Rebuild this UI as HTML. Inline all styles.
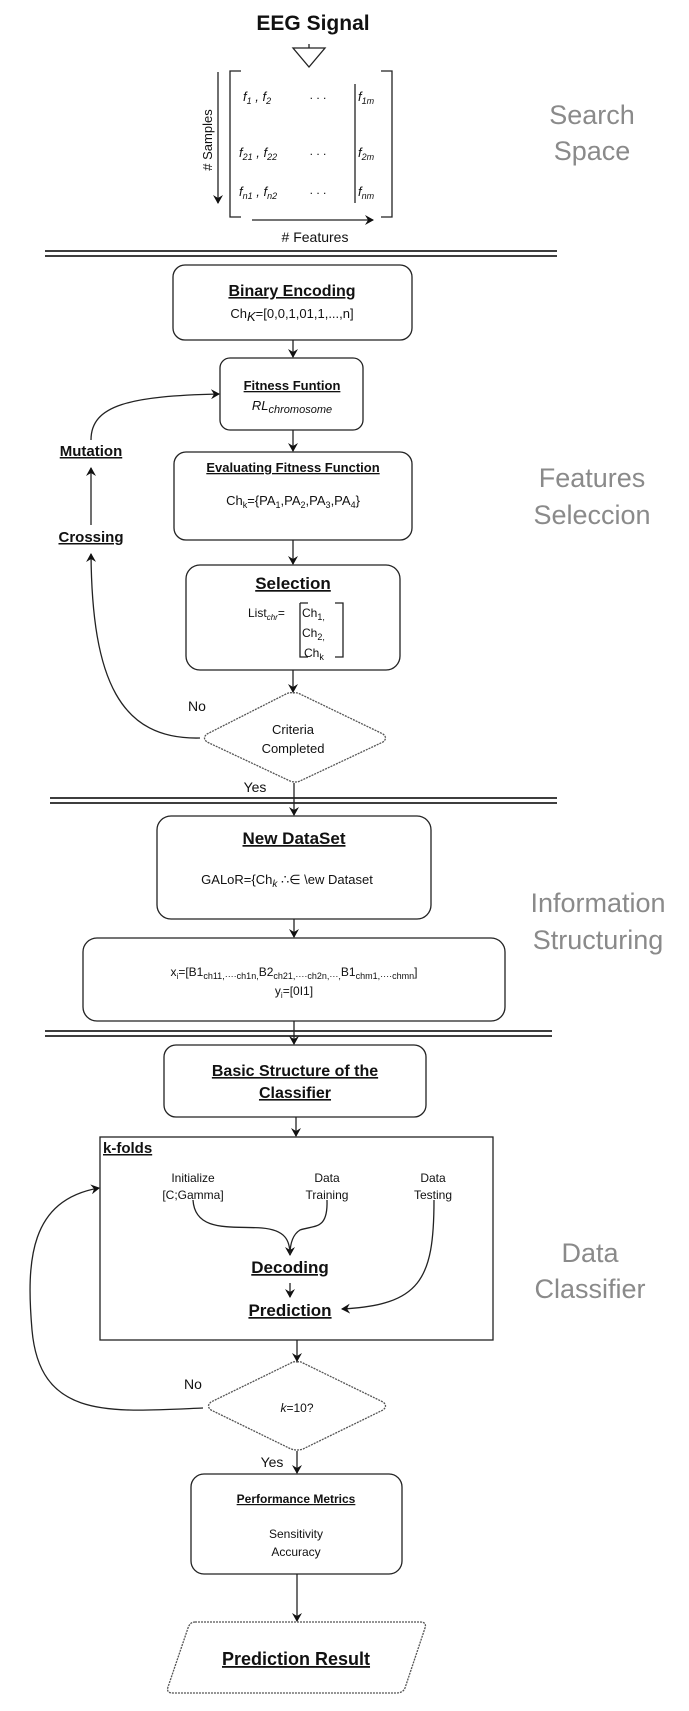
<!DOCTYPE html>
<html><head><meta charset="utf-8"><style>
html,body{margin:0;padding:0;background:#fff}
svg{display:block}
text{font-family:"Liberation Sans",Arial,sans-serif;fill:#111}
.b{font-weight:bold;text-decoration:underline}
.g{fill:#8a8a8a;font-size:27px}
</style></head><body>
<svg width="689" height="1711" viewBox="0 0 689 1711" xmlns="http://www.w3.org/2000/svg">
<defs>
<marker id="a" markerWidth="10" markerHeight="10" refX="8" refY="5" orient="auto" markerUnits="userSpaceOnUse"><path d="M0,0 L9,5 L0,10 L3,5 z" fill="#111"/></marker>
</defs>
<g stroke="#222" fill="none" stroke-width="1.3">
<path d="M293,48 L325,48 L309,67 Z"/><line x1="309" y1="44" x2="309" y2="48"/>
<path d="M241,71 L230,71 L230,217 L241,217"/>
<path d="M381,71 L392,71 L392,217 L381,217"/>
<line x1="355" y1="84" x2="355" y2="203"/>
<line x1="218" y1="72" x2="218" y2="203" marker-end="url(#a)"/>
<line x1="252" y1="220" x2="373" y2="220" marker-end="url(#a)"/>
<g stroke-width="1.8">
<line x1="45" y1="251" x2="557" y2="251"/><line x1="45" y1="256" x2="557" y2="256"/>
<line x1="50" y1="798" x2="557" y2="798"/><line x1="50" y1="803" x2="557" y2="803"/>
<line x1="45" y1="1031" x2="552" y2="1031"/><line x1="45" y1="1036" x2="552" y2="1036"/>
</g>
<rect x="173" y="265" width="239" height="75" rx="12"/>
<rect x="220" y="358" width="143" height="72" rx="10"/>
<rect x="174" y="452" width="238" height="88" rx="12"/>
<rect x="186" y="565" width="214" height="105" rx="14"/>
<path d="M300,603 L308,603 M300,603 L300,657 L308,657 M335,603 L343,603 L343,657 L335,657"/>
<path d="M293,693 Q296,692 300,694 L383,734 Q388,738 383,742 L300,781 Q296,783 290,781 L207,742 Q202,738 207,734 L286,694 Q290,692 293,693 Z" stroke-dasharray="2,1" stroke="#555"/>
<rect x="157" y="816" width="274" height="103" rx="14"/>
<rect x="83" y="938" width="422" height="83" rx="14"/>
<rect x="164" y="1045" width="262" height="72" rx="12"/>
<rect x="100" y="1137" width="393" height="203"/>
<path d="M297,1362 Q300,1361 303,1363 L383,1402 Q388,1406 383,1410 L303,1449 Q297,1451 291,1449 L211,1410 Q206,1406 211,1402 L291,1363 Q294,1361 297,1362 Z" stroke-dasharray="2,1" stroke="#555"/>
<rect x="191" y="1474" width="211" height="100" rx="13"/>
<path d="M195,1622 L420,1622 Q427,1622 425,1628 L405,1688 Q403,1693 396,1693 L173,1693 Q166,1693 168,1687 L188,1628 Q190,1622 195,1622 Z" stroke-dasharray="2,1" stroke="#555"/>
<line x1="293" y1="340" x2="293" y2="357" marker-end="url(#a)"/>
<line x1="293" y1="430" x2="293" y2="451" marker-end="url(#a)"/>
<line x1="293" y1="540" x2="293" y2="564" marker-end="url(#a)"/>
<line x1="293" y1="670" x2="293" y2="692" marker-end="url(#a)"/>
<line x1="294" y1="783" x2="294" y2="815" marker-end="url(#a)"/>
<line x1="294" y1="919" x2="294" y2="937" marker-end="url(#a)"/>
<line x1="294" y1="1021" x2="294" y2="1044" marker-end="url(#a)"/>
<line x1="296" y1="1117" x2="296" y2="1136" marker-end="url(#a)"/>
<line x1="297" y1="1340" x2="297" y2="1361" marker-end="url(#a)"/>
<line x1="297" y1="1451" x2="297" y2="1473" marker-end="url(#a)"/>
<line x1="297" y1="1574" x2="297" y2="1621" marker-end="url(#a)"/>
<line x1="91" y1="525" x2="91" y2="468" marker-end="url(#a)"/>
<path d="M91,440 C91,405 130,396 219,394" marker-end="url(#a)"/>
<path d="M200,738 C120,740 92,680 91,554" marker-end="url(#a)"/>
<path d="M203,1408 C110,1412 40,1420 32,1330 C26,1260 30,1200 99,1188" marker-end="url(#a)"/>
<path d="M193,1200 C195,1232 230,1226 262,1228 C285,1230 290,1240 290,1255" marker-end="url(#a)"/>
<path d="M327,1200 C328,1230 315,1225 300,1230 C292,1235 290,1245 290,1255"/>
<line x1="290" y1="1283" x2="290" y2="1297" marker-end="url(#a)"/>
<path d="M434,1200 C434,1280 420,1305 342,1309" marker-end="url(#a)"/>
</g>
<text x="313" y="30" font-size="21" font-weight="bold" text-anchor="middle">EEG Signal</text>
<g font-size="13" font-style="italic">
<text x="243" y="101">f<tspan font-size="9" dy="3">1</tspan><tspan dy="-3"> , f</tspan><tspan font-size="9" dy="3">2</tspan></text>
<text x="239" y="157">f<tspan font-size="9" dy="3">21</tspan><tspan dy="-3"> , f</tspan><tspan font-size="9" dy="3">22</tspan></text>
<text x="239" y="196">f<tspan font-size="9" dy="3">n1</tspan><tspan dy="-3"> , f</tspan><tspan font-size="9" dy="3">n2</tspan></text>
<text x="358" y="101">f<tspan font-size="9" dy="3">1m</tspan></text>
<text x="358" y="157">f<tspan font-size="9" dy="3">2m</tspan></text>
<text x="358" y="196">f<tspan font-size="9" dy="3">nm</tspan></text>
</g>
<text x="318" y="99" font-size="12" text-anchor="middle">. . .</text>
<text x="318" y="155" font-size="12" text-anchor="middle">. . .</text>
<text x="318" y="194" font-size="12" text-anchor="middle">. . .</text>
<text x="212" y="140" font-size="13" text-anchor="middle" transform="rotate(-90 212 140)"># Samples</text>
<text x="315" y="242" font-size="14" text-anchor="middle"># Features</text>

<text class="g" x="592" y="124" text-anchor="middle">Search</text>
<text class="g" x="592" y="160" text-anchor="middle">Space</text>
<text class="g" x="592" y="487" text-anchor="middle">Features</text>
<text class="g" x="592" y="524" text-anchor="middle">Seleccion</text>
<text class="g" x="598" y="912" text-anchor="middle">Information</text>
<text class="g" x="598" y="949" text-anchor="middle">Structuring</text>
<text class="g" x="590" y="1262" text-anchor="middle">Data</text>
<text class="g" x="590" y="1298" text-anchor="middle">Classifier</text>

<text class="b" x="292" y="296" font-size="16" text-anchor="middle">Binary Encoding</text>
<text x="292" y="318" font-size="13" text-anchor="middle">Ch<tspan font-style="italic" dy="3">K</tspan><tspan dy="-3">=[0,0,1,01,1,...,n]</tspan></text>
<text class="b" x="292" y="390" font-size="13" text-anchor="middle">Fitness Funtion</text>
<text x="292" y="410" font-size="13" font-style="italic" text-anchor="middle">RL<tspan font-size="11" dy="3">chromosome</tspan></text>
<text class="b" x="293" y="472" font-size="13" text-anchor="middle">Evaluating Fitness Function</text>
<text x="293" y="505" font-size="13" text-anchor="middle">Ch<tspan font-size="9" dy="3">k</tspan><tspan dy="-3">={PA</tspan><tspan font-size="9" dy="3">1</tspan><tspan dy="-3">,PA</tspan><tspan font-size="9" dy="3">2</tspan><tspan dy="-3">,PA</tspan><tspan font-size="9" dy="3">3</tspan><tspan dy="-3">,PA</tspan><tspan font-size="9" dy="3">4</tspan><tspan dy="-3">}</tspan></text>
<text class="b" x="293" y="589" font-size="17" text-anchor="middle">Selection</text>
<text x="248" y="617" font-size="12">List<tspan font-size="8" font-style="italic" dy="3">chr</tspan><tspan dy="-3">=</tspan></text>
<text x="302" y="617" font-size="12">Ch<tspan font-size="9" dy="3">1,</tspan></text>
<text x="302" y="637" font-size="12">Ch<tspan font-size="9" dy="3">2,</tspan></text>
<text x="304" y="657" font-size="12">Ch<tspan font-size="9" dy="3">k</tspan></text>
<text x="197" y="711" font-size="14" text-anchor="middle">No</text>
<text x="293" y="734" font-size="13" text-anchor="middle">Criteria</text>
<text x="293" y="753" font-size="13" text-anchor="middle">Completed</text>
<text x="255" y="792" font-size="14" text-anchor="middle">Yes</text>
<text class="b" x="91" y="456" font-size="15" text-anchor="middle">Mutation</text>
<text class="b" x="91" y="542" font-size="15" text-anchor="middle">Crossing</text>

<text class="b" x="294" y="844" font-size="17" text-anchor="middle">New DataSet</text>
<text x="287" y="884" font-size="13" text-anchor="middle">GALoR={Ch<tspan font-style="italic" font-size="10" dy="3">k</tspan><tspan dy="-3"> ∴∈ \ew Dataset</tspan></text>
<text x="294" y="976" font-size="12" text-anchor="middle">x<tspan font-size="8" dy="3">i</tspan><tspan dy="-3">=[B1</tspan><tspan font-size="9" dy="3">ch11,····ch1n,</tspan><tspan dy="-3">B2</tspan><tspan font-size="9" dy="3">ch21,····ch2n,···,</tspan><tspan dy="-3">B1</tspan><tspan font-size="9" dy="3">chm1,····chmn</tspan><tspan dy="-3">]</tspan></text>
<text x="294" y="995" font-size="12" text-anchor="middle">y<tspan font-size="8" dy="3">i</tspan><tspan dy="-3">=[0I1]</tspan></text>
<text class="b" x="295" y="1076" font-size="16" text-anchor="middle">Basic Structure of the</text>
<text class="b" x="295" y="1098" font-size="16" text-anchor="middle">Classifier</text>
<text class="b" x="103" y="1153" font-size="15">k-folds</text>
<text x="193" y="1182" font-size="12" text-anchor="middle">Initialize</text>
<text x="193" y="1199" font-size="12" text-anchor="middle">[C;Gamma]</text>
<text x="327" y="1182" font-size="12" text-anchor="middle">Data</text>
<text x="327" y="1199" font-size="12" text-anchor="middle">Training</text>
<text x="433" y="1182" font-size="12" text-anchor="middle">Data</text>
<text x="433" y="1199" font-size="12" text-anchor="middle">Testing</text>
<text class="b" x="290" y="1273" font-size="17" text-anchor="middle">Decoding</text>
<text class="b" x="290" y="1316" font-size="17" text-anchor="middle">Prediction</text>
<text x="193" y="1389" font-size="14" text-anchor="middle">No</text>
<text x="297" y="1412" font-size="12" text-anchor="middle"><tspan font-style="italic">k</tspan>=10?</text>
<text x="272" y="1467" font-size="14" text-anchor="middle">Yes</text>
<text class="b" x="296" y="1503" font-size="12" text-anchor="middle">Performance Metrics</text>
<text x="296" y="1538" font-size="12" text-anchor="middle">Sensitivity</text>
<text x="296" y="1556" font-size="12" text-anchor="middle">Accuracy</text>
<text class="b" x="296" y="1665" font-size="18" text-anchor="middle">Prediction Result</text>
</svg>
</body></html>
